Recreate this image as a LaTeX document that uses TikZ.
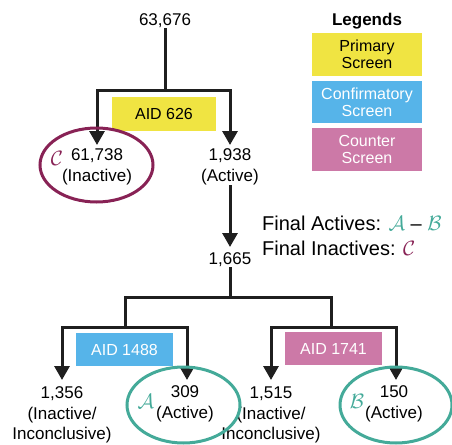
\documentclass[tikz,border=0pt]{standalone}
\usepackage{fontspec}
\setmainfont{Liberation Sans}
\usetikzlibrary{arrows.meta}
\definecolor{pyellow}{HTML}{F0E442}
\definecolor{cblue}{HTML}{56B4E9}
\definecolor{cpink}{HTML}{CC79A7}
\definecolor{wine}{HTML}{882255}
\definecolor{tealc}{HTML}{44AA99}
\begin{document}
\begin{tikzpicture}[x=1pt,y=-1pt,
  font=\fontsize{17}{20.5}\selectfont,
  lbl/.style={align=center, inner sep=0pt},
  conn/.style={line width=3pt, draw=black!88},
  arr/.style={conn, -{Triangle[width=15pt,length=14pt]}},
  aidbox/.style={minimum width=97pt, minimum height=33pt, inner sep=0pt, font=\fontsize{16}{17}\selectfont},
  legbox/.style={minimum width=110pt, minimum height=43pt, inner sep=0pt, align=center, font=\fontsize{16}{17}\selectfont},
  ring/.style={line width=3pt},
  scr/.style={lbl, font=\fontsize{21}{24}\selectfont}
]
\useasboundingbox (0,0) rectangle (452,444);
% text nodes
\node[lbl] (n0) at (165,21) {63,676};
\node[lbl] (n1) at (97,167) {61,738\\(Inactive)};
\node[lbl] (n2) at (230,167) {1,938\\(Active)};
\node[lbl] (n3) at (230,260) {1,665};
\node[lbl] (n4) at (62,415) {1,356\\(Inactive/\\Inconclusive)};
\node[lbl] (n5) at (185,404) {309\\(Active)};
\node[lbl] (n6) at (271,415) {1,515\\(Inactive/\\Inconclusive)};
\node[lbl] (n7) at (394,404) {150\\(Active)};
% junctions and tips
\coordinate (j0) at (165,90);
\coordinate (t1) at (97,145);
\coordinate (t2) at (230,145);
\coordinate (t3) at (230,247);
\coordinate (j1) at (230,297);
\coordinate (jL) at (125,327);
\coordinate (jR) at (331,327);
\coordinate (t4) at (62,380);
\coordinate (t5) at (187,380);
\coordinate (t6) at (271,380);
\coordinate (t7) at (396,380);
% connectors
\draw[conn] (n0.south) -- (j0);
\draw[arr] (j0) -| (t1);
\draw[arr] (j0) -| (t2);
\draw[arr] (n2.south) -- (t3);
\draw[conn] (n3.south) -- (j1);
\draw[conn] (j1) -| (jL);
\draw[conn] (j1) -| (jR);
\draw[arr] (jL) -| (t4);
\draw[arr] (jL) -| (t5);
\draw[arr] (jR) -| (t6);
\draw[arr] (jR) -| (t7);
% assay boxes
\node[aidbox, minimum width=104pt, minimum height=34pt, fill=pyellow] (a626) at (164,114) {AID 626};
\node[aidbox, fill=cblue, text=white] (a1488) at (124.5,349.5) {AID 1488};
\node[aidbox, fill=cpink, text=white] (a1741) at (333.5,348.5) {AID 1741};
% legend
\node[lbl, font=\fontsize{17}{20}\selectfont\bfseries] (leg) at (367,21) {Legends};
\node[legbox, fill=pyellow] (lp) at (367,54.5) {Primary\\Screen};
\node[legbox, minimum height=42pt, fill=cblue, text=white] (lc) at (367,102) {Confirmatory\\Screen};
\node[legbox, fill=cpink, text=white] (lk) at (367,149.5) {Counter\\Screen};
% ellipses
\draw[ring, wine] (96.5,165) ellipse [x radius=56.5, y radius=37];
\draw[ring, tealc] (183.5,405) ellipse [x radius=56.5, y radius=38];
\draw[ring, tealc] (396,405) ellipse [x radius=56, y radius=38];
% script letters
\node[scr, text=wine] (sc) at (57,158) {$\mathcal{C}$};
\node[scr, text=tealc] (sa) at (146,401) {$\mathcal{A}$};
\node[scr, text=tealc] (sb) at (357,401) {$\mathcal{B}$};
% final text
\node[lbl, anchor=west, font=\fontsize{20}{24}\selectfont] (fa) at (262,223) {Final Actives: {\color{tealc}$\mathcal{A}$} -- {\color{tealc}$\mathcal{B}$}};
\node[lbl, anchor=west, font=\fontsize{20}{24}\selectfont] (fi) at (262,248) {Final Inactives: {\color{wine}$\mathcal{C}$}};
\end{tikzpicture}
\end{document}
